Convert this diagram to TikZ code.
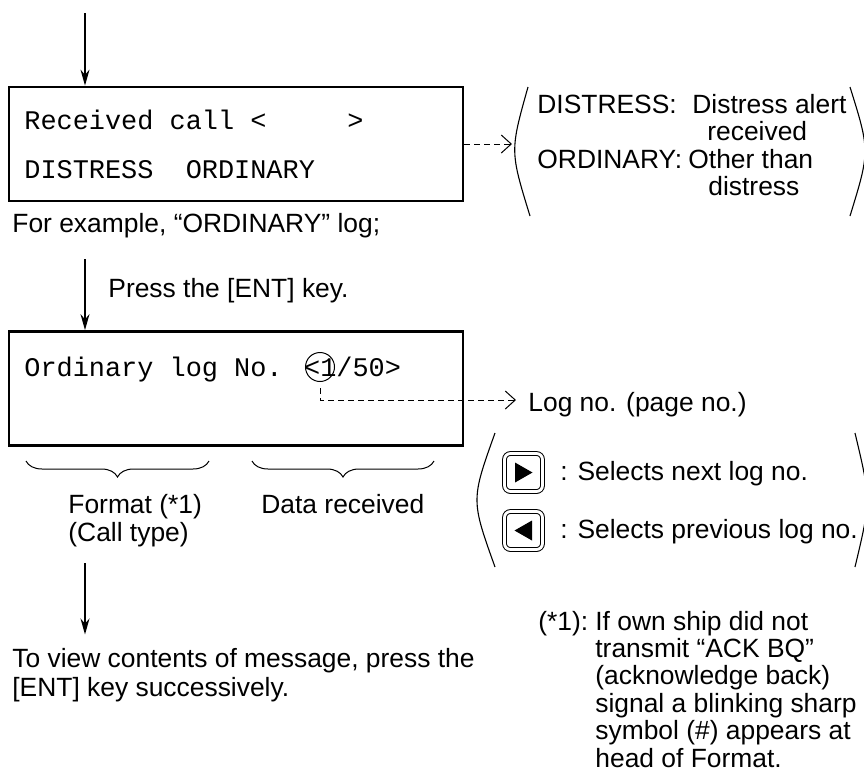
\documentclass[tikz,border=0pt]{standalone}
\usepackage{fontspec}
\setmainfont{Liberation Sans}
\newfontfamily\lcdfont{Liberation Mono}
\usetikzlibrary{arrows.meta,decorations.pathreplacing}

\tikzset{
  lcd/.style={draw, line width=1.4pt, minimum width=227pt, minimum height=57pt, inner sep=0pt},
  lcdtext/.style={font=\lcdfont\fontsize{13.45}{14}\selectfont, anchor=base west, inner sep=0pt},
  note/.style={font=\fontsize{13.2}{14}\selectfont, anchor=base west, inner sep=0pt},
  flow/.style={-{Stealth[length=8pt,width=4.5pt]}, line width=0.7pt},
  hint/.style={dash pattern=on 3pt off 2pt, -{Straight Barb[length=5pt,width=9pt]}, line width=0.5pt},
  paren/.style={line width=0.55pt},
  keycap/.style={draw, double, double distance=1.4pt, line width=0.5pt, rounded corners=3pt, minimum size=19pt, inner sep=0pt},
  groupbrace/.style={decorate, decoration={brace, mirror, amplitude=8pt}, line width=0.5pt}
}

\begin{document}
\begin{tikzpicture}[x=0.5pt, y=-0.5pt]
    \useasboundingbox (0,0) rectangle (864,778);

    % Display: received call
    \node[lcd] (recv) at (236,144) {};
    \node[lcdtext] (recvA) at (24,129) {Received call <\phantom{00000}>};
    \node[lcdtext] (recvB) at (24,178) {DISTRESS\phantom{00}ORDINARY};
    \coordinate (start) at (85,13);
    \draw[flow] (start) -- (start |- recv.north);

    % Legend of call types
    \draw[paren] (528,87) .. controls (510,151) .. (530,216);
    \draw[paren] (850,87) .. controls (870,151) .. (850,216);
    \node[note] (dis) at (537,113) {DISTRESS:};
    \node[note] (disB) at (692,113) {Distress alert};
    \node[note] (disC) at (707,140) {received};
    \node[note] (ord) at (537,168) {ORDINARY:};
    \node[note] (ordB) at (688,168) {Other than};
    \node[note] (ordC) at (708,195) {distress};
    \coordinate (legend) at (512,143);
    \draw[hint] (recv.east) -- (recv.east -| legend);

    \node[note] (example) at (12,232) {For example, “ORDINARY” log;};

    % Display: ordinary log
    \coordinate (press) at (85,259);
    \node[lcd] (log) at (236,388.5) {};
    \draw[flow] (press) -- (press |- log.north);
    \node[note] (ent) at (108,297) {Press the [ENT] key.};
    \node[lcdtext] (logA) at (24,376) {Ordinary log No. <1/50>};
    \node[circle, draw, line width=0.5pt, minimum size=14.5pt, inner sep=0pt] (one) at (320,367) {};

    % Log number pointer
    \node[note] (logno) at (528,411) {Log no. (page no.)};
    \coordinate (lognotip) at (516,400);
    \draw[hint] ([yshift=-3pt]one.south) |- (lognotip);

    % Braces
    \draw[groupbrace] (26,461) -- (209,461);
    \draw[groupbrace] (252,461) -- (434,461);
    \node[note] (fmt) at (68,513) {Format (*1)};
    \node[note] (calltype) at (68,541) {(Call type)};
    \node[note] (data) at (261,513) {Data received};

    % Next step
    \coordinate (next) at (85,563);
    \node[note] (view) at (12,667) {To view contents of message, press the};
    \node[note] (viewB) at (12,696) {[ENT] key successively.};
    \draw[flow, shorten >=6.5pt] (next) -- (next |- view.north);

    % Cursor keys
    \draw[paren] (495,433) .. controls (471,500) .. (495,567);
    \draw[paren] (855,433) .. controls (871,500) .. (855,567);
    \foreach \y/\dir/\name/\txt in {472.5/1/next/{: Selects next log no.}, 530.5/-1/prev/{: Selects previous log no.}} {
        \node[keycap] (key\name) at (523.5,\y) {};
        \fill[shift={(523.5,\y)}] ({-8.5*(\dir)},-10) -- ({-8.5*(\dir)},10) -- ({9*(\dir)},0) -- cycle;
        \node[note] (sel\name) at (560,\y+8) {\txt};
    }

    % Footnote
    \node[note] (star) at (538,630) {(*1):};
    \foreach \txt [count=\i from 0] in {If own ship did not, transmit “ACK BQ”, {(acknowledge back)}, signal a blinking sharp, {symbol (\#) appears at}, head of Format.} {
        \node[note] (foot\i) at (595,630+27.4*\i) {\txt};
    }
\end{tikzpicture}
\end{document}
